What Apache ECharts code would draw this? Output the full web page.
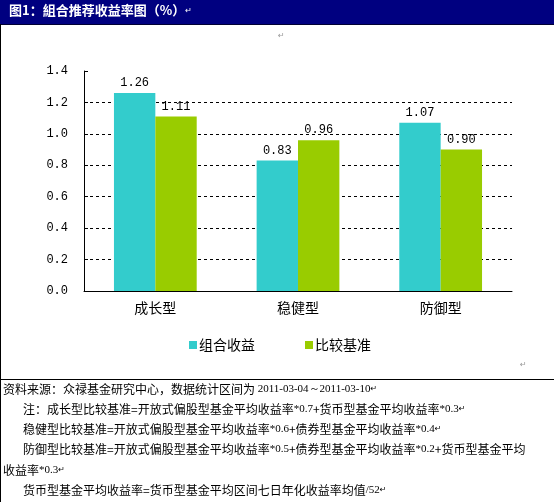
<!DOCTYPE html>
<html>
<head>
<meta charset="utf-8">
<script src="https://cdn.jsdelivr.net/npm/echarts@6/dist/echarts.min.js"></script>
<style>
  html, body { margin: 0; padding: 0; background: #fff; }
  #main { width: 554px; height: 502px; }
</style>
</head>
<body>
<div id="main"></div>
<script>
  // 数据
  var categories = ['成长型', '稳健型', '防御型'];
  var portfolioReturn = [1.26, 0.83, 1.07];
  var benchmarkReturn = [1.11, 0.96, 0.90];
  var seriesNames = ['组合收益', '比较基准'];

  var titleText = '图1：組合推荐收益率图（%）';

  var cjk = '"Noto Sans CJK SC", sans-serif';
  var mono = '"Liberation Mono", "DejaVu Sans Mono", monospace';

  var myChart = echarts.init(document.getElementById('main'));

  var noteRich = {
    g: { fontFamily: '"Liberation Serif", serif', fontSize: 11, color: '#808080' },
    r: { fontFamily: '"DejaVu Sans", sans-serif', fontSize: 8, color: '#999' }
  };
  function note(x, y, str) {
    return {
      type: 'text', left: x, top: y,
      style: {
        text: str, rich: noteRich,
        fontFamily: cjk, fontSize: 12, fill: '#000'
      }
    };
  }

  var barLabel = {
    show: true, position: 'top', distance: 4,
    fontFamily: mono, fontSize: 12, color: '#000',
    formatter: function (p) { return p.value.toFixed(2); }
  };

  var option = {
    backgroundColor: '#fff',
    animation: false,
    grid: { left: 84, right: 42, top: 71, bottom: 211 },
    legend: {
      left: 184, top: 333,
      itemWidth: 8, itemHeight: 8, itemGap: 50,
      icon: 'rect',
      textStyle: { fontFamily: cjk, fontSize: 14, color: '#000', padding: [0, 0, 0, -3] },
      data: seriesNames
    },
    xAxis: {
      type: 'category',
      data: categories,
      axisLine: { lineStyle: { color: '#000', width: 1 } },
      axisTick: { inside: true, length: 4, lineStyle: { color: '#000' } },
      axisLabel: { fontFamily: cjk, fontSize: 14, color: '#000', margin: 10 }
    },
    yAxis: {
      type: 'value',
      min: 0, max: 1.4, interval: 0.2,
      axisLine: { show: true, lineStyle: { color: '#000', width: 1 } },
      axisTick: { show: true, inside: true, length: 4, lineStyle: { color: '#000' } },
      axisLabel: {
        fontFamily: mono, fontSize: 12, color: '#000', margin: 16,
        formatter: function (v) { return v.toFixed(1); }
      },
      splitLine: {
        show: true, showMaxLine: false, showMinLine: false,
        lineStyle: { color: '#000', width: 1, type: [3, 3] }
      }
    },
    series: [
      {
        name: seriesNames[0], type: 'bar', data: portfolioReturn,
        barWidth: '29%', barGap: '0%',
        itemStyle: { color: '#33CCCC' },
        label: barLabel
      },
      {
        name: seriesNames[1], type: 'bar', data: benchmarkReturn,
        barWidth: '29%',
        itemStyle: { color: '#99CC00' },
        label: barLabel
      }
    ],
    graphic: [
      // 标题栏
      { type: 'rect', shape: { x: 0, y: 0, width: 554, height: 24 }, style: { fill: '#000080' } },
      { type: 'line', shape: { x1: 0, y1: 24.5, x2: 554, y2: 24.5 }, style: { stroke: '#000033', lineWidth: 1 } },
      {
        type: 'text', left: 9, top: 4,
        style: {
          text: titleText + '{r|↵}', fontFamily: cjk, fontSize: 13, fontWeight: 'bold', fill: '#fff',
          rich: { r: { fontFamily: '"DejaVu Sans", sans-serif', fontSize: 8, fontWeight: 'normal', color: '#8888bb' } }
        }
      },
      { type: 'line', shape: { x1: 0.5, y1: 24, x2: 0.5, y2: 502 }, style: { stroke: '#000', lineWidth: 1 } },
      { type: 'line', shape: { x1: 0, y1: 379.5, x2: 554, y2: 379.5 }, style: { stroke: '#000', lineWidth: 1 } },
      { type: 'text', left: 278, top: 32, style: { text: '↵', fontFamily: '"DejaVu Sans", sans-serif', fontSize: 8, fill: '#999' } },
      { type: 'text', left: 520, top: 361, style: { text: '↵', fontFamily: '"DejaVu Sans", sans-serif', fontSize: 8, fill: '#999' } },
      // 注释
      note(3, 383, '资料来源：众禄基金研究中心，数据统计区间为 {g|2011-03-04～2011-03-10}{r|↵}'),
      note(23, 403, '注：成长型比较基准=开放式偏股型基金平均收益率{g|*0.7}+货币型基金平均收益率{g|*0.3}{r|↵}'),
      note(23, 423, '稳健型比较基准=开放式偏股型基金平均收益率{g|*0.6}+债券型基金平均收益率{g|*0.4}{r|↵}'),
      note(23, 443, '防御型比较基准=开放式偏股型基金平均收益率{g|*0.5}+债券型基金平均收益率{g|*0.2}+货币型基金平均'),
      note(3, 464, '收益率{g|*0.3}{r|↵}'),
      note(23, 484, '货币型基金平均收益率=货币型基金平均区间七日年化收益率均值{g|/52}{r|↵}')
    ]
  };

  myChart.setOption(option);
</script>
</body>
</html>
